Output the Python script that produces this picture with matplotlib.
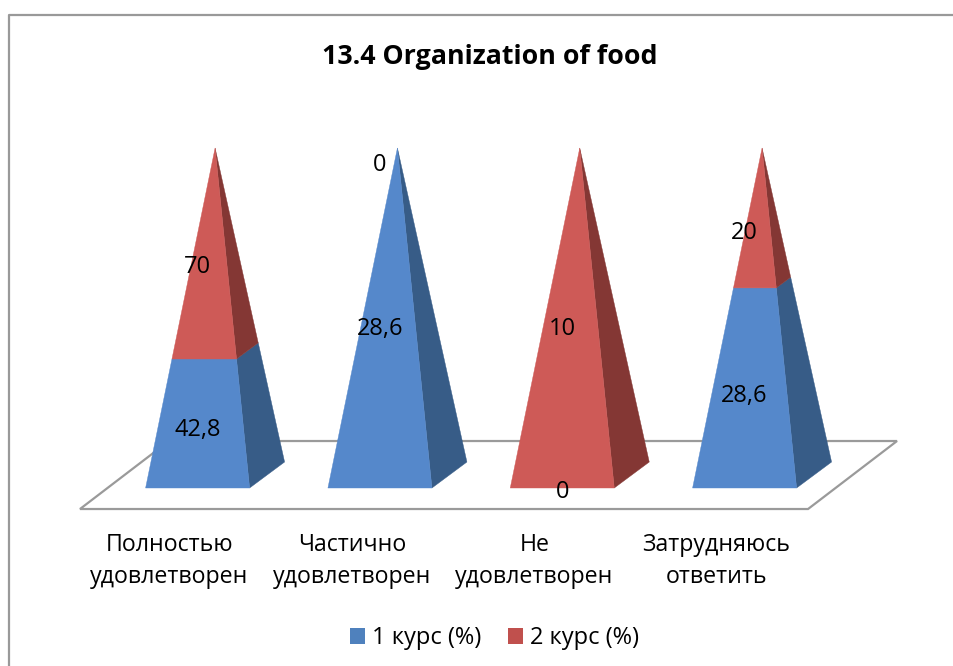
# pyramid chart, 100% stacked, drawn by hand as matplotlib has no such type
import matplotlib
matplotlib.use("Agg")
import matplotlib.pyplot as plt
from matplotlib.lines import Line2D
from matplotlib.patches import Patch, Polygon

plt.rcParams["font.family"] = ["Open Sans", "DejaVu Sans"]

categories = ["Полностью\nудовлетворен", "Частично\nудовлетворен", "Не\nудовлетворен", "Затрудняюсь\nответить"]
series_names = ["1 курс (%)", "2 курс (%)"]
course_1 = [42.8, 28.6, 0, 28.6]
course_2 = [70, 0, 10, 20]
labels_1 = ["42,8", "28,6", "0", "28,6"]
labels_2 = ["70", "0", "10", "20"]

W, H = 954, 666
STEP = 182.33  # pixels between categories
X0 = 197.6  # pixel of first pyramid centre
half = 52 / STEP
depth_x = 35 / STEP
depth_y = 26 / 3.4

fig = plt.figure(figsize=(W / 100, H / 100), dpi=100, facecolor="white")
ax = fig.add_axes([80 / W, 1 - 488 / H, (897 - 80) / W, 340 / H])
ax.set_xlim((80 - X0) / STEP, (897 - X0) / STEP)
ax.set_ylim(0, 100)
for s in ax.spines.values():
    s.set_visible(False)
ax.set_yticks([])
ax.patch.set_alpha(0)

# floor
floor = [(-0.645, -6.18), (3.348, -6.18), (3.836, 13.82), (-0.157, 13.82)]
ax.add_patch(Polygon(floor, closed=True, fc="white", ec="#9a9a9a", lw=1.6, clip_on=False, joinstyle="miter"))


def edge(p, f):
    # point on a pyramid edge at fraction f of the height
    return (p[0] + (p[2] - p[0]) * f, p[1] + (p[3] - p[1]) * f)


colors = [("#5588CB", "#375C87"), ("#CE5A57", "#843734")]

for i in range(len(categories)):
    total = course_1[i] + course_2[i]
    apex = (i + depth_x / 2, 100)
    left = (i - half, 0, *apex)
    right = (i + half, 0, *apex)
    back = (i + half + depth_x, depth_y, *apex)
    start = 0
    for vals, texts, (front_c, side_c) in zip([course_1, course_2], [labels_1, labels_2], colors):
        stop = start + vals[i] / total
        if stop > start:
            ax.add_patch(Polygon([edge(right, start), edge(back, start), edge(back, stop), edge(right, stop)],
                                 closed=True, fc=side_c, ec=side_c, lw=0.3, clip_on=False))
            ax.add_patch(Polygon([edge(left, start), edge(right, start), edge(right, stop), edge(left, stop)],
                                 closed=True, fc=front_c, ec=front_c, lw=0.3, clip_on=False))
        ax.text(i, (start + stop) / 2 * 96 - 1.1, texts[i], ha="center", va="center", fontsize=17, color="black", zorder=5)
        start = stop

ax.set_xticks([i - 28 / STEP for i in range(len(categories))])
ax.set_xticklabels(categories, fontsize=16.7, linespacing=1.45)
ax.tick_params(axis="x", length=0, pad=32.5)

fig.text(490 / W, 1 - 57 / H, "13.4 Organization of food", ha="center", va="center", fontsize=19.3, fontweight="bold")

handles = [Patch(fc="#4F81BD"), Patch(fc="#C0504D")]
fig.legend(handles, series_names, loc="center", bbox_to_anchor=(494.5 / W, 1 - 638 / H), ncol=2, frameon=False,
           fontsize=17, handlelength=0.64, handleheight=0.64, handletextpad=0.3, columnspacing=1.14)

# chart frame, only top and left are in the picture
fig.add_artist(Line2D([9.5 / W, 9.5 / W, 1], [0, 1 - 15 / H, 1 - 15 / H], color="#999999", lw=1.6))

fig.savefig("out.png", dpi=100)
